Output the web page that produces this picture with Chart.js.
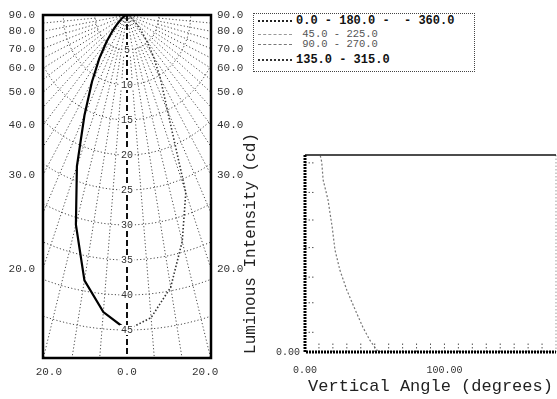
<!DOCTYPE html>
<html lang="en">
<head>
<meta charset="UTF-8">
<title>Luminaire photometric chart</title>
<script src="https://cdn.jsdelivr.net/npm/chart.js@4.4.1/dist/chart.umd.min.js"></script>
<style>
  html, body { margin: 0; padding: 0; background: #fff; }
  body { width: 557px; height: 399px; position: relative; overflow: hidden; font-family: "Liberation Mono", "DejaVu Sans Mono", monospace; }
  #polar { position: absolute; left: 0; top: 0; }
  #curve { position: absolute; left: 241px; top: 110px; }
  .legend { position: absolute; left: 253px; top: 13px; width: 222px; height: 59px; border: 1px dotted #444; box-sizing: border-box; }
  .legend .row { position: absolute; left: 0; height: 12px; display: flex; align-items: center; white-space: pre; color: #111; }
  .legend .swatch { width: 34px; margin-left: 4px; margin-right: 4px; height: 0; }
  .legend .bold { font-weight: bold; font-size: 12px; }
  .legend .light { font-size: 10.5px; color: #555; }
</style>
</head>
<body>
<canvas id="polar" width="250" height="399"></canvas>
<canvas id="curve" width="316" height="289"></canvas>

<div class="legend">
  <div class="row" style="top:1px"><span class="swatch" style="border-top:2px dotted #222"></span><span class="bold">0.0 - 180.0 -  - 360.0</span></div>
  <div class="row" style="top:14px"><span class="swatch" style="border-top:1px dashed #999"></span><span class="light"> 45.0 - 225.0</span></div>
  <div class="row" style="top:24px"><span class="swatch" style="border-top:1px dashed #777"></span><span class="light"> 90.0 - 270.0</span></div>
  <div class="row" style="top:40px"><span class="swatch" style="border-top:2px dotted #333"></span><span class="bold">135.0 - 315.0</span></div>
</div>

<script>
const FONT = '"Liberation Mono", "DejaVu Sans Mono", monospace';

// polar diagram: intensity (cd) per angle from nadir
const POLAR_ANGLES = [0, 5, 10, 15, 20, 25, 30, 35, 40, 45, 50, 60, 70, 80, 90];
const C180_CD = [45, 42.6, 38.5, 31, 23, 15.8, 11, 7.6, 5, 3.2, 2, 0.9, 0.4, 0.1, 0];
const C0_CD = [45, 43.4, 39.5, 33.5, 27, 15, 10.5, 7.2, 4.8, 3, 1.8, 0.8, 0.3, 0.1, 0];
const RINGS = [5, 10, 15, 20, 25, 30, 35, 40, 45];
const SIDE_ANGLES = [90, 80, 70, 60, 50, 40, 30, 20];
const BOTTOM_TICKS = [-20, 0, 20];

// cartesian curve: intensity vs vertical angle
const VERT_ANGLE = [11, 12, 13, 16.5, 19.5, 21.5, 25, 30, 36, 41.5, 46.5, 51.5, 55, 180];
const INTENSITY = [49.8, 48.2, 43.7, 38.6, 31.7, 25.9, 20.8, 15.7, 10.7, 6.3, 3.0, 0.5, 0, 0];
const X_LABEL_TICKS = [0, 100];
const Y_MARKS = [5, 12.5, 19, 26.5, 33.5, 40.5, 48];
const X_MARKS = [10, 20, 30, 40, 50, 60, 70, 80, 90, 100, 110, 120, 130, 140, 150, 160, 170];
const Y_TITLE = 'Luminous Intensity (cd)';

// polar frame geometry
const X_HALF = 21.5;     // x axis runs -X_HALF..X_HALF
const XS = 1.63;         // x axis units per cd (vertical axis is in cd)
const DEPTH_MAX = 49;
const RAD = Math.PI / 180;

function polarPoint(angle, r, side) {
    return { x: side * r * Math.sin(angle * RAD) * XS, y: r * Math.cos(angle * RAD) };
}

function sideDepth(angle) {
    return (X_HALF / XS) / Math.tan(angle * RAD);
}

const polarGrid = {
    id: 'polarGrid',
    beforeDatasetsDraw(chart) {
        const { ctx, chartArea: a, scales: { x, y } } = chart;
        const pix = (ang, r) => {
            const p = polarPoint(ang, r, 1);
            return [x.getPixelForValue(p.x), y.getPixelForValue(p.y)];
        };
        ctx.save();
        ctx.beginPath();
        ctx.rect(a.left, a.top, a.width, a.height);
        ctx.clip();
        ctx.strokeStyle = '#4a4a4a';
        ctx.lineWidth = 1;
        ctx.setLineDash([1.2, 2.2]);
        // intensity rings
        RINGS.forEach(r => {
            ctx.beginPath();
            for (let ang = -90; ang <= 90; ang += 2) {
                const [px, py] = pix(ang, r);
                if (ang === -90) ctx.moveTo(px, py); else ctx.lineTo(px, py);
            }
            ctx.stroke();
        });
        // angle rays
        for (let ang = -85; ang <= 85; ang += 5) {
            if (ang === 0) continue;
            const r0 = ang % 10 === 0 ? 0 : RINGS[0];
            const [x0, y0] = pix(ang, r0);
            const [x1, y1] = pix(ang, 90);
            ctx.beginPath();
            ctx.moveTo(x0, y0);
            ctx.lineTo(x1, y1);
            ctx.stroke();
        }
        // nadir line
        ctx.strokeStyle = '#111';
        ctx.lineWidth = 2;
        ctx.setLineDash([6, 3]);
        ctx.beginPath();
        ctx.moveTo(x.getPixelForValue(0), a.top);
        ctx.lineTo(x.getPixelForValue(0), a.bottom);
        ctx.stroke();
        ctx.restore();
    },
    afterDatasetsDraw(chart) {
        const { ctx, chartArea: a, scales: { x, y } } = chart;
        ctx.save();
        ctx.font = '10px ' + FONT;
        ctx.textAlign = 'center';
        ctx.textBaseline = 'middle';
        RINGS.forEach(r => {
            const px = x.getPixelForValue(0), py = y.getPixelForValue(r);
            const w = ctx.measureText(String(r)).width + 3;
            ctx.fillStyle = '#fff';
            ctx.fillRect(px - w / 2, py - 5, w, 10);
            ctx.fillStyle = '#333';
            ctx.fillText(String(r), px, py);
        });
        ctx.strokeStyle = '#000';
        ctx.lineWidth = 2.5;
        ctx.strokeRect(a.left, a.top, a.width, a.height);
        ctx.restore();
    }
};

const sideAxis = (position, padding, width) => ({
    type: 'linear',
    position: position,
    min: 0,
    max: DEPTH_MAX,
    reverse: true,
    grid: { display: false, drawTicks: false },
    border: { display: false },
    afterBuildTicks: s => { s.ticks = SIDE_ANGLES.map(a => ({ value: a === 90 ? 0 : sideDepth(a) })); },
    ticks: {
        autoSkip: false,
        padding: padding,
        color: '#333',
        font: { family: FONT, size: 11 },
        callback: (v, i) => SIDE_ANGLES[i].toFixed(1)
    },
    afterFit: s => { s.width = width; }
});

new Chart(document.getElementById('polar'), {
    type: 'scatter',
    data: {
        datasets: [
            {
                label: 'C180',
                data: POLAR_ANGLES.map((a, i) => polarPoint(a, C180_CD[i], -1)),
                showLine: true,
                borderColor: '#000',
                borderWidth: 2.2,
                pointRadius: 0,
                yAxisID: 'y'
            },
            {
                label: 'C0',
                data: POLAR_ANGLES.map((a, i) => polarPoint(a, C0_CD[i], 1)),
                showLine: true,
                borderColor: '#333',
                borderWidth: 1.6,
                borderDash: [1.5, 2],
                pointRadius: 0,
                yAxisID: 'y'
            }
        ]
    },
    options: {
        responsive: false,
        animation: false,
        events: [],
        layout: { padding: { top: 15, left: 0, right: 0, bottom: 0 } },
        plugins: { legend: { display: false }, tooltip: { enabled: false } },
        scales: {
            x: {
                type: 'linear',
                min: -X_HALF,
                max: X_HALF,
                grid: { display: false, drawTicks: false },
                border: { display: false },
                afterBuildTicks: s => { s.ticks = BOTTOM_TICKS.map(v => ({ value: v })); },
                ticks: {
                    autoSkip: false,
                    maxRotation: 0,
                    padding: 7,
                    color: '#333',
                    font: { family: FONT, size: 11 },
                    callback: v => Math.abs(v).toFixed(1)
                },
                afterFit: s => { s.height = 41; }
            },
            y: sideAxis('left', 8, 43),
            y2: sideAxis('right', 6, 39)
        }
    },
    plugins: [polarGrid]
});

const curveFrame = {
    id: 'curveFrame',
    afterDatasetsDraw(chart) {
        const { ctx, chartArea: a, scales: { x, y } } = chart;
        ctx.save();
        ctx.strokeStyle = '#555';
        ctx.lineWidth = 1;
        ctx.setLineDash([1.5, 2]);
        Y_MARKS.forEach(v => {
            const py = y.getPixelForValue(v);
            ctx.beginPath();
            ctx.moveTo(a.left, py);
            ctx.lineTo(a.left + 9, py);
            ctx.stroke();
        });
        X_MARKS.forEach(v => {
            const px = x.getPixelForValue(v);
            ctx.beginPath();
            ctx.moveTo(px, a.bottom);
            ctx.lineTo(px, a.bottom - 9);
            ctx.stroke();
        });
        // right border
        ctx.strokeStyle = '#999';
        ctx.beginPath();
        ctx.moveTo(a.right, a.top);
        ctx.lineTo(a.right, a.bottom);
        ctx.stroke();
        // top border
        ctx.setLineDash([]);
        ctx.strokeStyle = '#111';
        ctx.lineWidth = 1.5;
        ctx.beginPath();
        ctx.moveTo(a.left, a.top);
        ctx.lineTo(a.right, a.top);
        ctx.stroke();
        // heavy left and bottom axes
        ctx.strokeStyle = '#000';
        ctx.lineWidth = 3;
        ctx.setLineDash([2, 1]);
        ctx.beginPath();
        ctx.moveTo(a.left, a.top);
        ctx.lineTo(a.left, a.bottom);
        ctx.lineTo(a.right, a.bottom);
        ctx.stroke();
        ctx.restore();

        // y axis title, drawn at full length (longer than the plot height)
        ctx.save();
        ctx.font = '16px ' + FONT;
        ctx.fillStyle = '#222';
        ctx.textAlign = 'center';
        ctx.textBaseline = 'middle';
        ctx.translate(y.left + 10, (a.top + a.bottom) / 2 - 10);
        ctx.rotate(-Math.PI / 2);
        ctx.fillText(Y_TITLE, 0, 0);
        ctx.restore();
    }
};

new Chart(document.getElementById('curve'), {
    type: 'scatter',
    data: {
        datasets: [{
            label: 'Intensity',
            data: VERT_ANGLE.map((a, i) => ({ x: a, y: INTENSITY[i] })),
            showLine: true,
            borderColor: '#777',
            borderWidth: 1.2,
            borderDash: [2, 2],
            pointRadius: 0
        }]
    },
    options: {
        responsive: false,
        animation: false,
        events: [],
        layout: { padding: { top: 45, right: 1, left: 0, bottom: 0 } },
        plugins: { legend: { display: false }, tooltip: { enabled: false } },
        scales: {
            x: {
                type: 'linear',
                min: 0,
                max: 180,
                grid: { display: false, drawTicks: false },
                border: { display: false },
                afterBuildTicks: s => { s.ticks = X_LABEL_TICKS.map(v => ({ value: v })); },
                ticks: {
                    autoSkip: false,
                    maxRotation: 0,
                    padding: 12,
                    color: '#333',
                    font: { family: FONT, size: 10 },
                    callback: v => v.toFixed(2)
                },
                title: {
                    display: true,
                    text: 'Vertical Angle (degrees)',
                    color: '#222',
                    font: { family: FONT, size: 17 },
                    padding: { top: 0, bottom: 2 }
                },
                afterFit: s => { s.height = 47; }
            },
            y: {
                type: 'linear',
                min: 0,
                max: 50,
                grid: { display: false, drawTicks: false },
                border: { display: false },
                afterBuildTicks: s => { s.ticks = [{ value: 0 }]; },
                ticks: {
                    padding: 5,
                    color: '#333',
                    font: { family: FONT, size: 10 },
                    callback: v => v.toFixed(2)
                },
                afterFit: s => { s.width = 64; }
            }
        }
    },
    plugins: [curveFrame]
});
</script>
</body>
</html>
